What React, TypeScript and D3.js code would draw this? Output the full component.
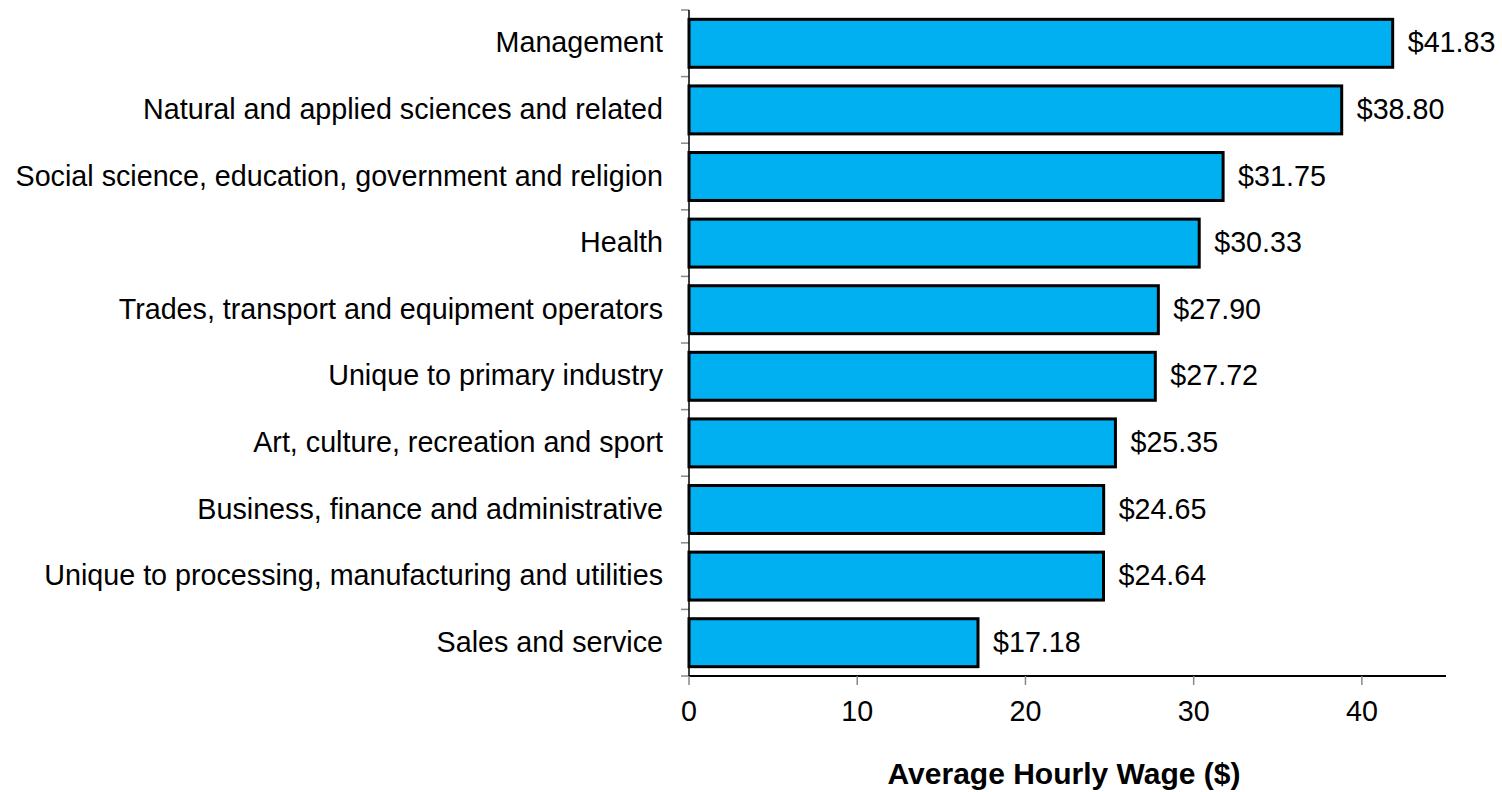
import React from "react";
import * as d3 from "d3";

const categories = [
  "Management",
  "Natural and applied sciences and related",
  "Social science, education, government and religion",
  "Health",
  "Trades, transport and equipment operators",
  "Unique to primary industry",
  "Art, culture, recreation and sport",
  "Business, finance and administrative",
  "Unique to processing, manufacturing and utilities",
  "Sales and service",
];
const wages = [41.83, 38.8, 31.75, 30.33, 27.9, 27.72, 25.35, 24.65, 24.64, 17.18];
const xTicks = [0, 10, 20, 30, 40];
const xTitle = "Average Hourly Wage ($)";

export default function App() {
  const W = 1502, H = 792;
  const left = 689, right = 1446, top = 10, bottom = 676;
  const x = d3.scaleLinear().domain([0, 45]).range([left, right]);
  const y = d3.scaleBand<string>().domain(categories).range([top, bottom]).paddingInner(0.28).paddingOuter(0.14);
  const step = y.step();
  const font = "Liberation Sans, Arial, sans-serif";
  return (
    <svg width={W} height={H} style={{ position: "absolute", left: 0, top: 0 }} fontFamily={font}>
      <rect width={W} height={H} fill="#fff" />
      {categories.map((c, i) => (
        <line key={"yt" + i} x1={left - 8} x2={left} y1={top + i * step} y2={top + i * step} stroke="#888" strokeWidth={1.5} />
      ))}
      <line x1={left - 8} x2={left} y1={bottom} y2={bottom} stroke="#888" strokeWidth={1.5} />
      {categories.map((c, i) => (
        <g key={c}>
          <rect x={x(0)} y={y(c)!} width={x(wages[i]) - x(0)} height={y.bandwidth()} fill="#00B0F0" stroke="#000" strokeWidth={3} />
          <text x={663} y={y(c)! + y.bandwidth() / 2} dy="0.32em" textAnchor="end" fontSize={28.7} fill="#000">{c}</text>
          <text x={x(wages[i]) + 15} y={y(c)! + y.bandwidth() / 2} dy="0.32em" textAnchor="start" fontSize={28.7} fill="#000">{"$" + wages[i].toFixed(2)}</text>
        </g>
      ))}
      <line x1={left} x2={left} y1={top} y2={bottom} stroke="#000" strokeWidth={1.5} />
      <line x1={left} x2={right} y1={bottom} y2={bottom} stroke="#000" strokeWidth={2} />
      {xTicks.map((t) => (
        <g key={t}>
          <line x1={x(t)} x2={x(t)} y1={bottom} y2={bottom + 9} stroke="#888" strokeWidth={1.5} />
          <text x={x(t)} y={721} textAnchor="middle" fontSize={28.7} fill="#000">{t}</text>
        </g>
      ))}
      <text x={1064} y={784} textAnchor="middle" fontSize={30} fontWeight="bold" fill="#000">{xTitle}</text>
    </svg>
  );
}
